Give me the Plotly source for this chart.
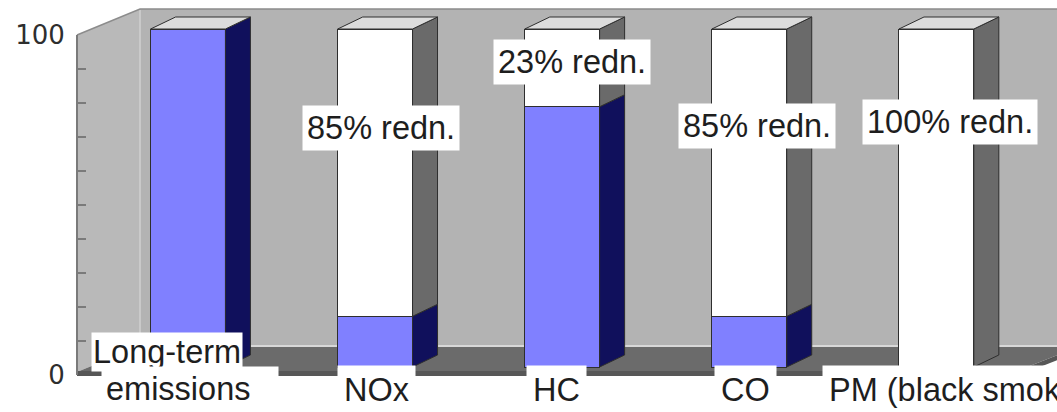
import plotly.graph_objects as go

# ---------------- data ----------------
categories = ["Long-term emissions", "NOx", "HC", "CO", "PM (black smoke)"]
remaining = [100, 15, 77, 15, 0]          # blue part: emissions remaining (%)
reduction = [0, 85, 23, 85, 100]          # white part: reduction (%)
reduction_labels = ["", "85% redn.", "23% redn.", "85% redn.", "100% redn."]
y_tick_vals = [0, 10, 20, 30, 40, 50, 60, 70, 80, 90, 100]
y_tick_text = ["0", "", "", "", "", "", "", "", "", "", "100"]

# ---------------- geometry / style ----------------
W, H = 1057, 412
PX_PER_X = 187.1            # pixels per category step
PX_PER_Y = 3.38             # pixels per % unit
X0 = -188 / PX_PER_X
Y0 = -(H - 367) / PX_PER_Y
x_range = [X0, X0 + W / PX_PER_X]
y_range = [Y0, Y0 + H / PX_PER_Y]

BAR_W = 0.4
HW = BAR_W / 2
DX = 25 / PX_PER_X          # 3-D depth offset of bars
DY = 12 / PX_PER_Y

BLUE = "#8080ff"
BLUE_SIDE = "#10105c"
WHITE_SIDE = "#6a6a6a"
TOP = "#dcdcdc"
EDGE = "#2e2e2e"
FONT = "Liberation Sans, Arial, sans-serif"
FS = 32.5
TXT = "#1e1e1e"

xs = list(range(len(categories)))

fig = go.Figure()

# front faces
fig.add_trace(go.Bar(x=xs, y=remaining, width=BAR_W, marker=dict(color=BLUE, line=dict(color=EDGE, width=1)),
                     showlegend=False, hoverinfo="skip"))
fig.add_trace(go.Bar(x=xs, y=reduction, width=BAR_W, marker=dict(color="white", line=dict(color=EDGE, width=1)),
                     showlegend=False, hoverinfo="skip"))

# side and top faces computed from the data
bsx, bsy, wsx, wsy, tx, ty = [], [], [], [], [], []
for i, (b, w) in enumerate(zip(remaining, reduction)):
    xr = i + HW
    if b > 0:
        bsx += [xr, xr + DX, xr + DX, xr, xr, None]
        bsy += [0, DY, b + DY, b, 0, None]
    if w > 0:
        wsx += [xr, xr + DX, xr + DX, xr, xr, None]
        wsy += [b, b + DY, b + w + DY, b + w, b, None]
    t = b + w
    tx += [i - HW, i + HW, i + HW + DX, i - HW + DX, i - HW, None]
    ty += [t, t, t + DY, t + DY, t, None]

for px_, py_, col in [(bsx, bsy, BLUE_SIDE), (wsx, wsy, WHITE_SIDE), (tx, ty, TOP)]:
    fig.add_trace(go.Scatter(x=px_, y=py_, mode="lines", fill="toself", fillcolor=col,
                             line=dict(color=EDGE, width=1), showlegend=False, hoverinfo="skip"))

# dummy trace so the free y axis is drawn
fig.add_trace(go.Scatter(x=[None], y=[None], xaxis="x", yaxis="y2", showlegend=False, hoverinfo="skip"))


# ---------------- walls and floor (decoration, paper coords from pixels) ----------------
def P(px, py):
    return f"{px / W:.5f},{1 - py / H:.5f}"


def path(*pts):
    return "M" + " L".join(P(*p) for p in pts) + " Z"


shapes = [
    dict(type="path", path=path((140, 9), (1060, 9), (1060, 346), (140, 346)), fillcolor="#b3b3b3", line=dict(width=0)),
    dict(type="path", path=path((77, 35), (140, 9), (140, 346), (77, 372)), fillcolor="#b9b9b9", line=dict(width=0)),
    dict(type="path", path=path((77, 372), (140, 346), (1080, 346), (1017, 371)), fillcolor="#6b6b6b", line=dict(width=0)),
    dict(type="path", path=path((77, 371), (1017, 371), (1017, 376), (77, 376)), fillcolor="#575757", line=dict(width=0)),
    dict(type="path", path=path((1017, 371), (1080, 346), (1080, 351), (1017, 376)), fillcolor="#575757", line=dict(width=0)),
    dict(type="path", path="M" + P(140, 346) + " L" + P(1060, 346), line=dict(color="#d8d8d8", width=2)),
    dict(type="path", path="M" + P(140, 10) + " L" + P(140, 346), line=dict(color="#d0d0d0", width=1.5)),
    dict(type="path", path="M" + P(77, 35) + " L" + P(140, 9) + " L" + P(1060, 9), line=dict(color="#8c8c8c", width=1.5)),
]
for s in shapes:
    s.update(xref="paper", yref="paper", layer="below")

# ---------------- annotations ----------------
ann = []
label_y = [None, 70.7, 90.1, 71.3, 72.5]
label_dx = [0, 0.03, 0.055, 0.04, 0.07]
for i, txt in enumerate(reduction_labels):
    if txt:
        ann.append(dict(x=i + label_dx[i], y=label_y[i], xref="x", yref="y", text=txt, showarrow=False,
                        xanchor="center", yanchor="middle",
                        bgcolor="white", borderpad=4, font=dict(family=FONT, size=FS, color=TXT)))

cat_pos = [None, 1.01, 1.97, 2.98, 4.12]
for i, name in enumerate(categories):
    if i == 0:
        continue
    ann.append(dict(x=cat_pos[i], y=1 - 390 / H, xref="x", yref="paper", text=name, showarrow=False,
                    xanchor="center", yanchor="middle",
                    bgcolor="white", borderpad=6, font=dict(family=FONT, size=FS, color=TXT)))

first_words = categories[0].split(" ")
ann.append(dict(x=-0.112, y=1 - 352 / H, xref="x", yref="paper", text=first_words[0], showarrow=False,
                xanchor="center", yanchor="middle",
                bgcolor="white", borderpad=1, font=dict(family=FONT, size=FS, color=TXT)))
ann.append(dict(x=(190 - 188) / PX_PER_X, y=1 - 389 / H, xref="x", yref="paper", text=first_words[1], showarrow=False,
                xanchor="center", yanchor="middle",
                bgcolor="white", borderpad=4, width=168, align="left", font=dict(family=FONT, size=FS, color=TXT)))

fig.update_layout(
    width=W, height=H, autosize=False,
    margin=dict(l=0, r=0, t=0, b=0, pad=0, autoexpand=False),
    paper_bgcolor="white", plot_bgcolor="rgba(0,0,0,0)",
    barmode="stack", bargap=0,
    xaxis=dict(range=x_range, visible=False, fixedrange=True, automargin=False),
    yaxis=dict(range=y_range, visible=False, fixedrange=True, automargin=False),
    yaxis2=dict(anchor="free", position=77 / W, domain=[1 - 375 / H, 1 - 35 / H], range=[0, 100],
                showline=True, linecolor="#7a7a7a", linewidth=2, ticks="inside", ticklen=8, tickwidth=1.5,
                tickcolor="#7a7a7a", tickmode="array", tickvals=y_tick_vals, ticktext=y_tick_text,
                showgrid=False, zeroline=False, ticklabelstandoff=6, automargin=False, fixedrange=True,
                tickfont=dict(family="DejaVu Sans, sans-serif", size=26, color="#2e2e2e")),
    shapes=shapes,
    annotations=ann,
    showlegend=False,
)

fig.write_html("out.html", config={"displayModeBar": False, "staticPlot": True},
               post_script="document.body.style.margin='0px';document.body.style.overflow='hidden';")
